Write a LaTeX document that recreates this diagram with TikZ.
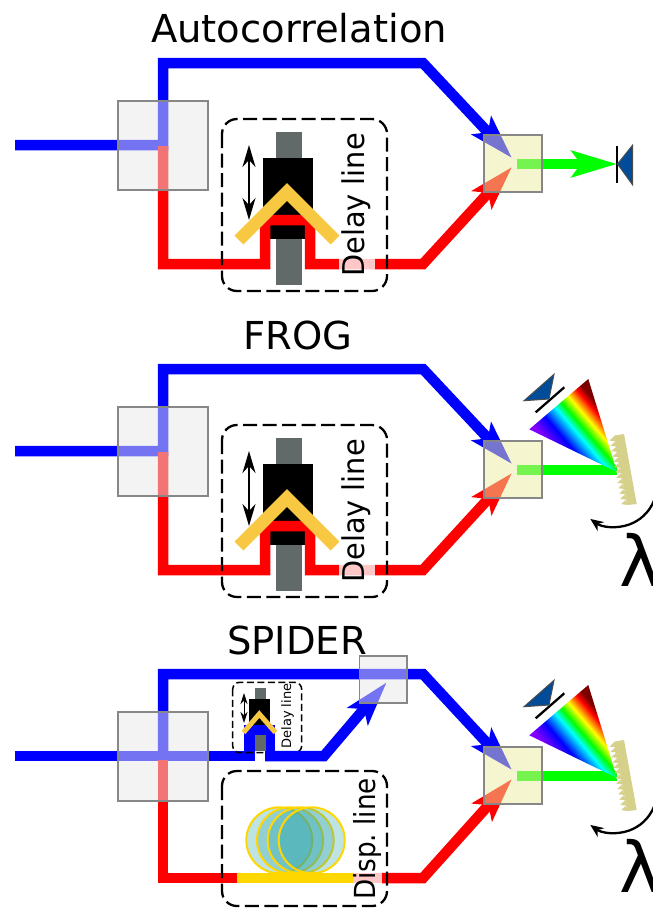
\documentclass[tikz,border=0pt]{standalone}
\usepackage{fontspec}
\setmainfont{DejaVu Sans}
\usetikzlibrary{arrows.meta,calc}
\definecolor{bluebeam}{RGB}{0,0,255}
\definecolor{redbeam}{RGB}{255,0,0}
\definecolor{greenbeam}{RGB}{0,255,0}
\definecolor{rodgray}{RGB}{98,105,105}
\definecolor{roofyellow}{RGB}{249,200,66}
\definecolor{gratingc}{RGB}{213,208,138}
\definecolor{diodeblue}{RGB}{0,76,153}
\definecolor{fibery}{RGB}{255,215,0}
\definecolor{coilc}{RGB}{40,162,168}
\definecolor{crystalc}{RGB}{235,235,160}
\definecolor{rbA}{RGB}{128,0,255}
\definecolor{rbB}{RGB}{0,0,255}
\definecolor{rbC}{RGB}{0,255,255}
\definecolor{rbD}{RGB}{0,255,0}
\definecolor{rbE}{RGB}{255,255,0}
\definecolor{rbF}{RGB}{255,0,0}
\definecolor{rbG}{RGB}{122,0,0}
\pgfdeclarehorizontalshading{rainbowsh}{100bp}{
color(0bp)=(rbA);color(29bp)=(rbA);color(38bp)=(rbB);color(47bp)=(rbC);color(52bp)=(rbD);color(58bp)=(rbE);color(65bp)=(rbF);color(69bp)=(rbG);color(100bp)=(rbG)}
\tikzset{
 beam/.style={line width=10.5pt,line join=miter,line cap=butt},
 beamtip/.style={-{Stealth[length=44pt,width=26pt,inset=9pt]}},
 splitter/.style={draw=black!47,line width=2pt,fill=black!9,fill opacity=.5},
 crystal/.style={draw=black!47,line width=2pt,fill=crystalc,fill opacity=.5},
 dashbox/.style={draw=black,line width=2.3pt,dash pattern=on 14pt off 5.5pt,rounded corners=15pt},
 smalldash/.style={draw=black,line width=1.5pt,dash pattern=on 7pt off 3.5pt,rounded corners=7pt},
 washout/.style={fill=white,fill opacity=.78,draw=none},
 vlabel/.style={rotate=90,inner sep=0pt,text=black,anchor=base},
 coilloop/.style={draw=fibery,line width=2pt,fill=coilc,fill opacity=.3},
 diode/.style={fill=diodeblue,draw=black!70,line width=1pt,line join=miter},
 titlelabel/.style={inner sep=0pt,text=black,font=\fontsize{38.5}{38.5}\selectfont},
 bigdouble/.style={line width=2pt,{Stealth[length=22pt,width=13pt,inset=7pt]}-{Stealth[length=22pt,width=13pt,inset=7pt]}},
 smalldouble/.style={line width=1pt,{Stealth[length=11pt,width=7pt,inset=3.5pt]}-{Stealth[length=11pt,width=7pt,inset=3.5pt]}},
}
\newcommand{\mainsplitter}{\draw[splitter] (118,101) rectangle (208,190);}
\newcommand{\crystalbox}{\draw[crystal] (484,135) rectangle (542,192);}
\newcommand{\delayunit}[1]{%
 \fill[rodgray] (276,132) rectangle (302,285);
 \fill[black] (263,158) rectangle (313,212);
 \fill[black] (269,205) rectangle (305,239);
 \draw[beam,beamtip,redbeam] (163,146) -- (163,264) -- (265,264) -- (265,220) -- (310,220) -- (310,264) -- (423,264) -- (512,167);
 \draw[bigdouble] (249,145) -- (249,220);
 \draw[roofyellow,line width=12.5pt,line join=miter] (239,240) -- (287,192) -- (335,240);
 \fill[washout] (339,133) rectangle (375,278);
 \draw[dashbox] (222,119) rectangle (387,291);
 \node[vlabel,xscale=.96,font=\fontsize{30}{30}\selectfont] (#1label) at (364,205) {Delay line};
}
\newcommand{\spectrometer}[1]{%
 \draw[beam,greenbeam] (517,470) -- (617,470);
 \coordinate (#1A) at (529.3,429.3);
 \coordinate (#1B) at (588.3,379);
 \coordinate (#1C) at (617,472);
 \begin{scope}
  \clip (#1A) -- (#1B) -- (#1C) -- cycle;
  \node[inner sep=0pt,rotate=40.3,xscale=1.54,yscale=3] (#1fan) at ($(#1A)!.5!(#1B)$) {\pgfuseshading{rainbowsh}};
 \end{scope}
 \fill[gratingc] (614,435.7) -- (624,434) -- (636.7,504) -- (627.3,505) -- cycle;
 \foreach \k in {0,...,12} {
   \fill[gratingc] ($(614.5,436)+\k*(0.97,5.3)$) -- ($(608.5,437.5)+\k*(0.97,5.3)+(1,3)$) -- ($(615.47,441.3)+\k*(0.97,5.3)$) -- cycle;
 }
 \draw[line width=2.3pt,black] (535.7,412.3) -- (564.3,387.3);
 \draw[diode] (524,400.7) -- (554,374.3) -- (549,399) -- cycle;
 \draw[line width=2.3pt,-{Stealth[length=13pt,width=11pt]}] (654.5,470.6) arc[start angle=-20,end angle=126,radius=42];
 \node[inner sep=0pt,anchor=base west,font=\fontsize{70}{70}\selectfont] (#1lambda) at (619,586) {λ};
}
\begin{document}
\begin{tikzpicture}[x=1pt,y=-1pt]
\useasboundingbox (0,0) rectangle (653,908);
\clip (0,0) rectangle (653,908);

% ---------- Autocorrelation
\node[titlelabel] (t1) at (299,28) {Autocorrelation};
\begin{scope}
 \draw[beam,beamtip,bluebeam] (15,145) -- (163,145) -- (163,63) -- (423,63) -- (512,158);
 \delayunit{a}
 \mainsplitter
 \draw[beam,greenbeam,-{Stealth[length=45pt,width=26pt,inset=9pt]}] (517,164) -- (617,164);
 \crystalbox
 \draw[line width=2.3pt] (616.7,146) -- (616.7,183);
 \draw[diode] (617.5,164) -- (632.7,145) -- (632.7,185) -- cycle;
\end{scope}

% ---------- FROG
\node[titlelabel] (t2) at (298,335) {FROG};
\begin{scope}[shift={(0,306)}]
 \draw[beam,beamtip,bluebeam] (15,145) -- (163,145) -- (163,63) -- (423,63) -- (512,158);
 \delayunit{b}
 \mainsplitter
\end{scope}
\spectrometer{f}
\begin{scope}[shift={(0,306)}]
 \crystalbox
\end{scope}

% ---------- SPIDER
\node[titlelabel] (t3) at (297,640) {SPIDER};
\draw[beam,beamtip,bluebeam] (163,756) -- (163,674) -- (423,674) -- (512,770);
\fill[rodgray] (255,688) rectangle (265.7,751);
\fill[black] (249,699) rectangle (270,726);
\draw[beam,bluebeam] (15,756) -- (254.3,756);
\draw[beam,bluebeam] (249.3,761) -- (249.3,730) -- (270,730) -- (270,761);
\fill[rodgray] (255,735) rectangle (265.7,751);
\draw[smalldouble] (244,693) -- (244,723);
\draw[roofyellow,line width=5pt,line join=miter] (243.5,732.5) -- (259.3,714) -- (275.5,732.5);
\draw[smalldash] (232.7,682.3) rectangle (301.7,752.7);
\node[vlabel,font=\fontsize{13}{13}\selectfont] (dl3) at (291,716) {Delay line};
\draw[beam,beamtip,bluebeam] (265,756) -- (324,756) -- (386.7,682.3);
\draw[draw=black!47,line width=1.5pt,fill=black!9,fill opacity=.5] (359.3,656) rectangle (407,703);
\draw[beam,redbeam] (163,760) -- (163,878) -- (236.7,878);
\draw[beam,beamtip,redbeam] (382,878) -- (423,878) -- (512,779);
\begin{scope}[shift={(0,611)}]
 \mainsplitter
\end{scope}
\foreach \cx in {279.3,290,300.7,311.7} {
  \draw[coilloop] (\cx,840.3) circle[radius=33];
}
\draw[beam,fibery] (236.7,878) -- (353,878);
\fill[red!22] (353,872.75) rectangle (382,883.25);
\draw[dashbox] (222,771) rectangle (387,906);
\node[vlabel,xscale=.905,font=\fontsize{29}{29}\selectfont] (dl4) at (375,839) {\frenchspacing Disp. line};
\begin{scope}[shift={(0,306)}]
 \spectrometer{s}
\end{scope}
\begin{scope}[shift={(0,612)}]
 \crystalbox
\end{scope}
\end{tikzpicture}
\end{document}
